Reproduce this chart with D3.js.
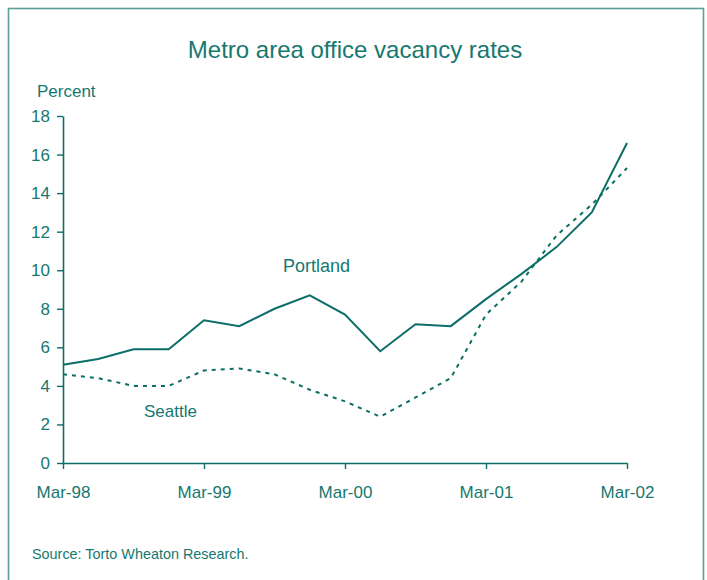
<!DOCTYPE html>
<html>
<head>
<meta charset="utf-8">
<script src="https://cdn.jsdelivr.net/npm/d3@7"></script>
<style>
  html, body { margin: 0; padding: 0; background: #fff; }
  svg { display: block; }
  text { font-family: "Liberation Sans", Arial, sans-serif; }
</style>
</head>
<body>
<div id="chart"></div>
<script>
// quarterly readings, Mar-98 .. Mar-02
const quarters = [
  "Mar-98", "Jun-98", "Sep-98", "Dec-98",
  "Mar-99", "Jun-99", "Sep-99", "Dec-99",
  "Mar-00", "Jun-00", "Sep-00", "Dec-00",
  "Mar-01", "Jun-01", "Sep-01", "Dec-01",
  "Mar-02",
];
const portland = [5.1, 5.4, 5.9, 5.9, 7.4, 7.1, 8.0, 8.7, 7.7, 5.8, 7.2, 7.1, 8.5, 9.8, 11.2, 13.0, 16.6];
const seattle  = [4.6, 4.4, 4.0, 4.0, 4.8, 4.9, 4.6, 3.8, 3.2, 2.4, 3.4, 4.4, 7.7, 9.4, 11.8, 13.4, 15.3];
const xTickLabels = ["Mar-98", "Mar-99", "Mar-00", "Mar-01", "Mar-02"];
const yTicks = [0, 2, 4, 6, 8, 10, 12, 14, 16, 18];

const TEAL = "#0b6e67";
const TEXT = "#167870";
const FRAME = "#5b9d97";

const width = 707, height = 580;
const margin = { top: 116, right: 80, bottom: 117, left: 63 };

const svg = d3.select("#chart").append("svg")
  .attr("width", width)
  .attr("height", height)
  .attr("viewBox", [0, 0, width, height]);

// outer frame (bottom edge runs off the picture)
svg.append("rect")
  .attr("x", 8.5).attr("y", 8.5)
  .attr("width", 695).attr("height", 600)
  .attr("fill", "none")
  .attr("stroke", FRAME)
  .attr("stroke-width", 1.6);

const x = d3.scalePoint().domain(quarters).range([margin.left, width - margin.right]);
const y = d3.scaleLinear().domain([0, 18]).range([height - margin.bottom, margin.top]);

svg.append("text")
  .attr("x", 355).attr("y", 58)
  .attr("text-anchor", "middle")
  .attr("fill", TEXT)
  .attr("font-size", "24px")
  .text("Metro area office vacancy rates");

svg.append("text")
  .attr("x", 37).attr("y", 97)
  .attr("fill", TEXT)
  .attr("font-size", "17px")
  .text("Percent");

// axes
const yAxis = svg.append("g")
  .attr("transform", `translate(${margin.left},0)`)
  .call(d3.axisLeft(y).tickValues(yTicks).tickSize(6).tickPadding(7).tickSizeOuter(0));
const xAxis = svg.append("g")
  .attr("transform", `translate(0,${height - margin.bottom})`)
  .call(d3.axisBottom(x).tickValues(xTickLabels).tickSize(6).tickPadding(17).tickSizeOuter(0));

[yAxis, xAxis].forEach(g => {
  g.select(".domain").attr("stroke", TEAL).attr("stroke-width", 1.6);
  g.selectAll(".tick line").attr("stroke", TEAL).attr("stroke-width", 1.4);
  g.selectAll(".tick text")
    .attr("fill", TEXT)
    .attr("font-size", "17px")
    .attr("font-family", '"Liberation Sans", Arial, sans-serif');
});

const line = d3.line()
  .x((d, i) => x(quarters[i]))
  .y(d => y(d));

svg.append("path")
  .datum(seattle)
  .attr("d", line)
  .attr("fill", "none")
  .attr("stroke", TEAL)
  .attr("stroke-width", 2)
  .attr("stroke-dasharray", "4,5");

svg.append("path")
  .datum(portland)
  .attr("d", line)
  .attr("fill", "none")
  .attr("stroke", TEAL)
  .attr("stroke-width", 2);

// series labels
svg.append("text")
  .attr("x", 283).attr("y", 272)
  .attr("fill", TEXT)
  .attr("font-size", "18px")
  .text("Portland");
svg.append("text")
  .attr("x", 144).attr("y", 417)
  .attr("fill", TEXT)
  .attr("font-size", "17px")
  .text("Seattle");

svg.append("text")
  .attr("x", 32).attr("y", 559)
  .attr("fill", TEXT)
  .attr("font-size", "14.4px")
  .text("Source: Torto Wheaton Research.");
</script>
</body>
</html>
